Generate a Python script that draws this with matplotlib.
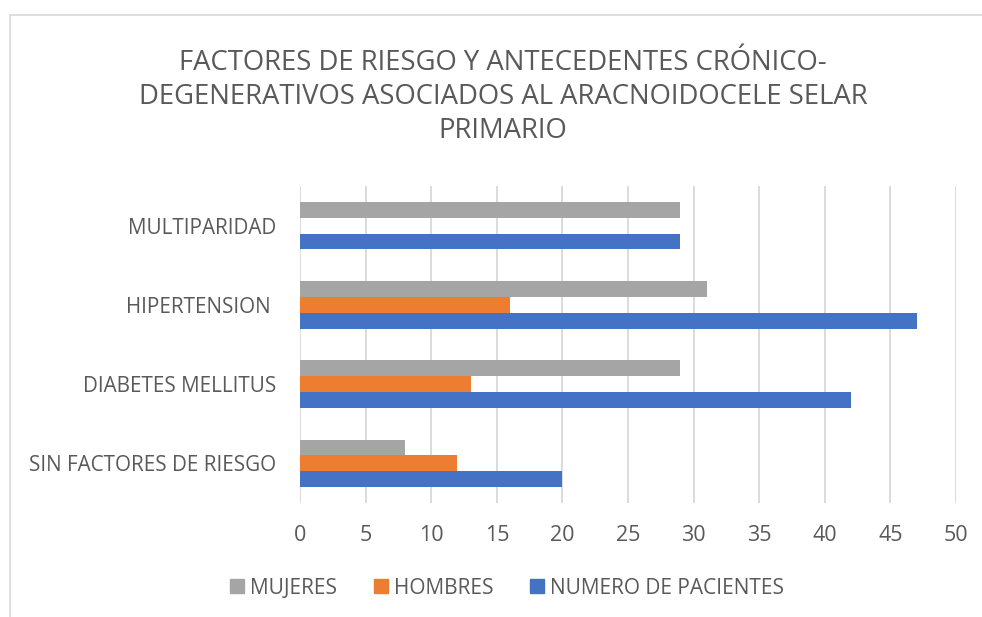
import matplotlib
matplotlib.use("Agg")
import matplotlib.pyplot as plt
from matplotlib.patches import Rectangle, Patch
import numpy as np

categories = ["SIN FACTORES DE RIESGO", "DIABETES MELLITUS", "HIPERTENSION ", "MULTIPARIDAD"]
numero_pacientes = [20, 42, 47, 29]
hombres = [12, 13, 16, 0]
mujeres = [8, 29, 31, 29]
series_names = ["NUMERO DE PACIENTES", "HOMBRES", "MUJERES"]
colors = ["#4472C4", "#ED7D31", "#A5A5A5"]
xticks = [0, 5, 10, 15, 20, 25, 30, 35, 40, 45, 50]
title = "FACTORES DE RIESGO Y ANTECEDENTES CRÓNICO-\nDEGENERATIVOS ASOCIADOS AL ARACNOIDOCELE SELAR\nPRIMARIO"

plt.rcParams['font.family'] = ['Open Sans', 'DejaVu Sans']
txt = "#595959"

fig = plt.figure(figsize=(9.82, 6.17), dpi=100)
W, H = 982, 617
# chart border
fig.patches.append(Rectangle((10 / W, -0.1), 1.2, 1 - 15 / H + 0.1, transform=fig.transFigure,
                             fill=False, edgecolor="#D9D9D9", linewidth=1.2))

ax = fig.add_axes([300 / W, 1 - 503 / H, 656 / W, 317 / H])
y = np.arange(len(categories))
h = 0.2
data = [numero_pacientes, hombres, mujeres]
offsets = [-h, 0, h]
for vals, c, off, name in zip(data, colors, offsets, series_names):
    ax.barh(y + off, vals, height=h, color=c, label=name, zorder=3)

ax.set_xlim(0, 50)
ax.set_ylim(-0.5, 3.5)
ax.set_xticks(xticks)
ax.set_yticks(y)
ax.set_yticklabels(categories)
for s in ax.spines.values():
    s.set_visible(False)
ax.grid(axis="x", color="#D9D9D9", linewidth=1.3, zorder=0)
ax.tick_params(axis="both", length=0, labelcolor=txt)
ax.tick_params(axis="y", pad=17, labelsize=14.9)
ax.tick_params(axis="x", pad=16, labelsize=15.5)

fig.text(503 / W, 1 - 97 / H, title, ha="center", va="center", fontsize=19.8,
         color=txt, linespacing=1.3)

handles = [Patch(color=colors[2]), Patch(color=colors[1]), Patch(color=colors[0])]
labels = [series_names[2], series_names[1], series_names[0]]
fig.legend(handles, labels, loc="center", bbox_to_anchor=(507 / W, 1 - 588 / H), ncol=3,
           frameon=False, fontsize=15.0, labelcolor=txt, handlelength=0.67, handleheight=0.67,
           handletextpad=0.3, columnspacing=1.75)

fig.savefig("out.png", dpi=100)
